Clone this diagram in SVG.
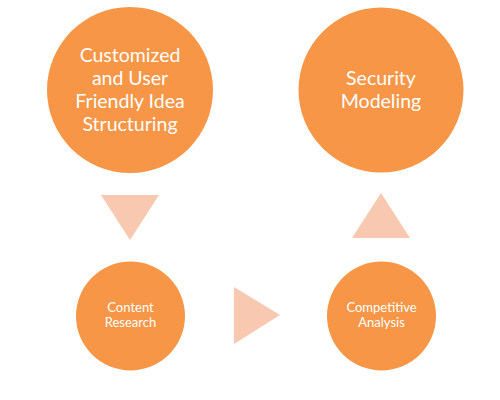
<svg xmlns="http://www.w3.org/2000/svg" width="500" height="400" viewBox="0 0 500 400">
<style>
.node{fill:#F79646;}
.arrow{fill:#F8C8B0;}
.big{font-family:Lato,"Liberation Sans",sans-serif;font-size:19.5px;fill:#FFFFFF;text-anchor:middle;}
.small{font-family:Lato,"Liberation Sans",sans-serif;font-size:13px;fill:#FFFFFF;text-anchor:middle;}
</style>
<rect width="500" height="400" fill="#FFFFFF"/>
<g id="connectors">
<polygon class="arrow" points="101,195 159,195 130,240"/>
<polygon class="arrow" points="234,287 234,344 280,315"/>
<polygon class="arrow" points="352,238 410,238 381,193"/>
</g>
<g id="node-idea">
<circle class="node" cx="130" cy="90" r="83"/>
<text class="big" x="130" y="62">Customized</text>
<text class="big" x="130" y="85">and User</text>
<text class="big" x="130" y="108">Friendly Idea</text>
<text class="big" x="130" y="131">Structuring</text>
</g>
<g id="node-security">
<circle class="node" cx="381" cy="90" r="82.5"/>
<text class="big" x="381" y="85">Security</text>
<text class="big" x="381" y="108">Modeling</text>
</g>
<g id="node-content">
<circle class="node" cx="130.5" cy="316" r="54.5"/>
<text class="small" x="130.5" y="312">Content</text>
<text class="small" x="130.5" y="327">Research</text>
</g>
<g id="node-competitive">
<circle class="node" cx="381.5" cy="316" r="54.5"/>
<text class="small" x="381.5" y="312">Competitive</text>
<text class="small" x="381.5" y="327">Analysis</text>
</g>
</svg>
